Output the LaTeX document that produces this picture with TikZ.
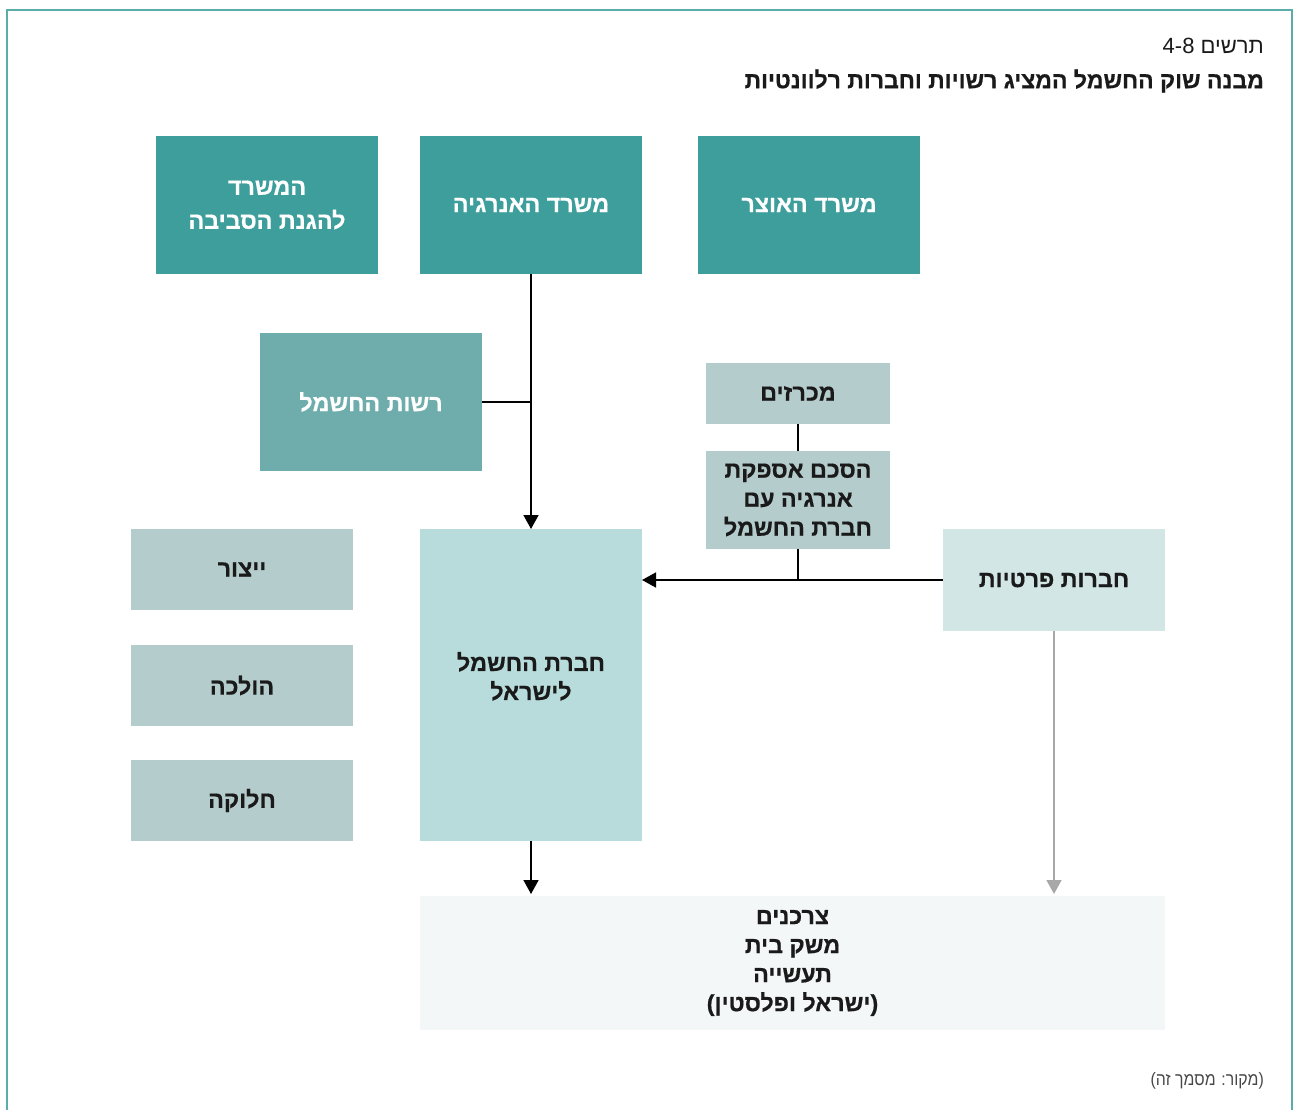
\documentclass[tikz,border=0pt]{standalone}
\usepackage{fontspec}
\usetikzlibrary{arrows.meta,calc}
\newfontfamily\hebfont[Script=Hebrew,BoldFeatures={FakeBold=0.6}]{Liberation Sans}
\newfontfamily\hebnarrow[Script=Hebrew,FakeStretch=0.88]{Liberation Sans}
\TeXXeTstate=1
\definecolor{tealdark}{HTML}{3D9E9C}
\definecolor{tealmid}{HTML}{6FADAD}
\definecolor{grayblue}{HTML}{B5CCCC}
\definecolor{iecfill}{HTML}{B8DCDC}
\definecolor{privfill}{HTML}{D2E6E6}
\definecolor{consfill}{HTML}{F3F7F7}
\definecolor{framecol}{HTML}{5AADA8}
\definecolor{graylink}{HTML}{A8A8A8}
\definecolor{textcol}{HTML}{1A1A1A}

\begin{document}
\begin{tikzpicture}[x=1pt,y=-1pt,
  box/.style={rectangle,inner sep=0pt,outer sep=0pt,anchor=north west,align=center,text=textcol,
    font=\hebfont\bfseries\fontsize{23.3}{29}\selectfont},
  ministry/.style={box,fill=tealdark,text=white,minimum width=222pt,minimum height=138pt},
  unit/.style={box,fill=grayblue,minimum width=222pt,minimum height=81pt},
  link/.style={line width=1.6pt,black},
  flow/.style={link,-{Triangle[width=15pt,length=14pt]}}]
  \useasboundingbox (0,0) rectangle (1293,1110);

  % Frame
  \draw[framecol,line width=1.2pt] (7,1112) -- (7,10) -- (1292,10) -- (1292,1112);

  % Title
  \node[anchor=east,inner sep=0pt,font=\hebfont\fontsize{22}{26}\selectfont,text=textcol] (fignum) at (1264,46)
    {\beginR תרשים \beginL 4-8\endL\endR};
  \node[anchor=east,inner sep=0pt,font=\hebfont\bfseries\fontsize{23}{27}\selectfont,text=textcol] (title) at (1264,81)
    {\beginR מבנה שוק החשמל המציג רשויות וחברות רלוונטיות\endR};

  % Ministries
  \node[ministry,font=\hebfont\bfseries\fontsize{23.3}{34}\selectfont] (env) at (156,136)
    {\beginR המשרד\endR\\\beginR להגנת הסביבה\endR};
  \node[ministry] (energy) at (420,136) {\beginR משרד האנרגיה\endR};
  \node[ministry] (treasury) at (698,136) {\beginR משרד האוצר\endR};

  % Regulator
  \node[box,fill=tealmid,text=white,minimum width=222pt,minimum height=138pt] (auth) at (260,333)
    {\beginR רשות החשמל\endR};

  % Tenders and agreement
  \node[box,fill=grayblue,minimum width=184pt,minimum height=61pt] (tender) at (706,363)
    {\beginR מכרזים\endR};
  \node[box,fill=grayblue,minimum width=184pt,minimum height=98pt] (agree) at (706,451)
    {\beginR הסכם אספקת\endR\\\beginR אנרגיה עם\endR\\\beginR חברת החשמל\endR};

  % Electric company and its units
  \node[box,fill=iecfill,minimum width=222pt,minimum height=312pt] (iec) at (420,529)
    {\beginR חברת החשמל\endR\\\beginR לישראל\endR\\[-11pt]};
  \node[unit] (gen) at (131,529) {\beginR ייצור\endR};
  \node[unit] (trans) at (131,645) {\beginR הולכה\endR};
  \node[unit] (dist) at (131,760) {\beginR חלוקה\endR};

  % Private companies
  \node[box,fill=privfill,minimum width=222pt,minimum height=102pt] (priv) at (943,529)
    {\beginR חברות פרטיות\endR};

  % Consumers
  \node[box,fill=consfill,minimum width=745pt,minimum height=134pt] (cons) at (420,896)
    {\beginR צרכנים\endR\\\beginR משק בית\endR\\\beginR תעשייה\endR\\\beginR(ישראל ופלסטין)\endR};

  % Links
  \draw[flow] (energy.south) -- (iec.north);
  \draw[link] (auth.east) -- (auth.east -| energy.south);
  \draw[link] (tender.south) -- (agree.north);
  \draw[link] (agree.south) -- (agree.south |- priv.west);
  \draw[flow] (priv.west) -- (priv.west -| iec.east);
  \draw[flow] (iec.south) -- ($(iec.south |- cons.north)+(0,-2)$);
  \draw[flow,graylink] (priv.south) -- ($(priv.south |- cons.north)+(0,-2)$);

  % Source
  \node[anchor=east,inner sep=0pt,font=\hebnarrow\fontsize{18}{21}\selectfont,text=textcol!80] (source) at (1264,1081)
    {\beginR(מקור: מסמך זה)\endR};
\end{tikzpicture}
\end{document}
